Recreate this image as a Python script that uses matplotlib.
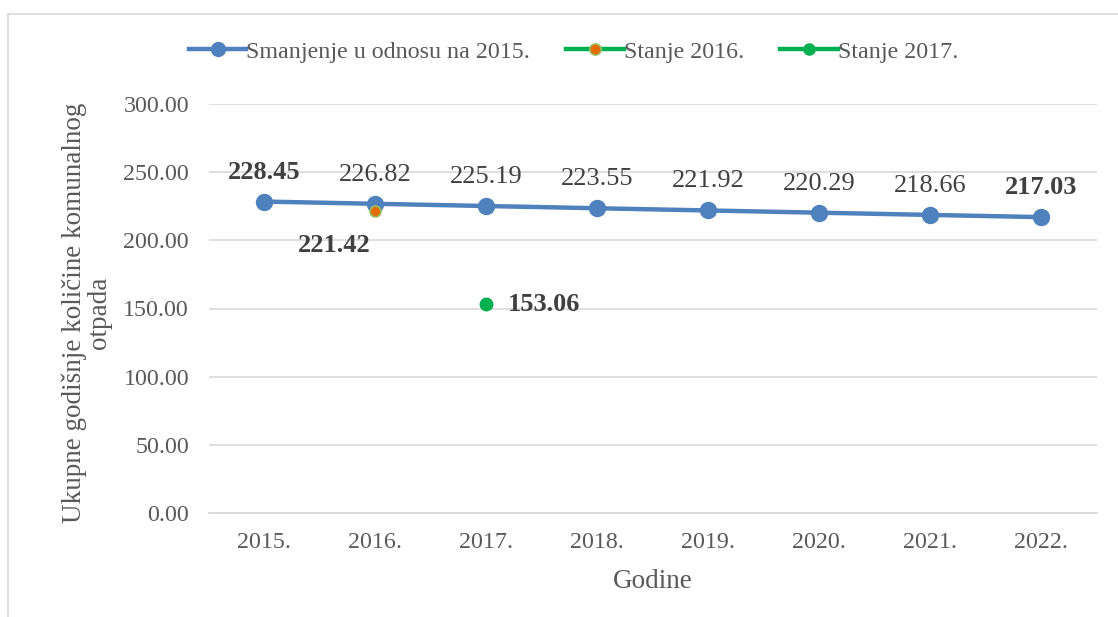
import matplotlib.pyplot as plt
from matplotlib.patches import Rectangle

# Podaci
years = ['2015.', '2016.', '2017.', '2018.', '2019.', '2020.', '2021.', '2022.']
reduction = [228.45, 226.82, 225.19, 223.55, 221.92, 220.29, 218.66, 217.03]
state_2016 = 221.42
state_2017 = 153.06
yticks = [0, 50, 100, 150, 200, 250, 300]

blue = '#4f81bd'
green = '#00b050'
orange = '#e36c09'
text_col = '#595959'
label_col = '#404040'

plt.rcParams['font.family'] = ['Liberation Serif', 'DejaVu Serif']

fig = plt.figure(figsize=(11.18, 6.17), dpi=100)
ax = fig.add_axes([0.1865, 0.1686, 0.7943, 0.6628])

x = list(range(len(years)))
ax.plot(x, reduction, color=blue, lw=3.2, marker='o', ms=11.5,
        label='Smanjenje u odnosu na 2015.', zorder=3)
ax.plot([1], [state_2016], color=green, lw=3.2, marker='o', ms=7.8,
        mfc=orange, mec='#9bbb59', mew=1.3, linestyle='none', zorder=4)
ax.plot([2], [state_2017], color=green, lw=3.2, marker='o', ms=9,
        linestyle='none', zorder=4)

# legenda
h1 = plt.Line2D([], [], color=blue, lw=3.2, marker='o', ms=10)
h2 = plt.Line2D([], [], color=green, lw=3.2, marker='o', ms=8,
                mfc=orange, mec='#9bbb59', mew=1.2)
h3 = plt.Line2D([], [], color=green, lw=3.2, marker='o', ms=8)
fig.legend([h1, h2, h3],
           ['Smanjenje u odnosu na 2015.', 'Stanje 2016.', 'Stanje 2017.'],
           loc='center', bbox_to_anchor=(0.513, 0.916), ncol=3, frameon=False,
           fontsize=17.3, handlelength=2.4, columnspacing=1.5, handletextpad=0.0,
           labelcolor=text_col)

# oznake podataka
for i, v in enumerate(reduction):
    bold = i in (0, len(reduction) - 1)
    ax.annotate(f'{v:.2f}', (i, v), xytext=(0, 13), textcoords='offset points',
                ha='center', va='bottom', fontsize=19, color=label_col,
                fontweight='bold' if bold else 'normal')
ax.annotate(f'{state_2016:.2f}', (1, state_2016), xytext=(-29, -25),
            textcoords='offset points', ha='center', va='center', fontsize=19,
            color=label_col, fontweight='bold')
ax.annotate(f'{state_2017:.2f}', (2, state_2017), xytext=(16, 0),
            textcoords='offset points', ha='left', va='center', fontsize=19,
            color=label_col, fontweight='bold')

ax.set_xlim(-0.5, len(years) - 0.5)
ax.set_ylim(0, 300)
ax.set_xticks(x)
ax.set_xticklabels(years)
ax.set_yticks(yticks)
ax.set_yticklabels([f'{t:.2f}' for t in yticks])
ax.tick_params(length=0, labelsize=17.3, labelcolor=text_col)
ax.tick_params(axis='y', pad=14)
ax.tick_params(axis='x', pad=14)
ax.grid(axis='y', color='#d9d9d9', lw=1.2)
ax.set_axisbelow(True)
for s in ['top', 'right', 'left']:
    ax.spines[s].set_visible(False)
ax.spines['bottom'].set_color('#d9d9d9')
ax.spines['bottom'].set_linewidth(1.2)

ax.set_xlabel('Godine', fontsize=19.5, color=text_col)
ax.xaxis.set_label_coords(0.5, -0.136)
ax.set_ylabel('Ukupne godišnje količine komunalnog\notpada', fontsize=19.5,
              color=text_col, linespacing=1.0)
ax.yaxis.set_label_coords(-0.109, 0.49)

# okvir grafikona
fig.patches.append(Rectangle((0.0075, -0.01), 1.1, 0.987, transform=fig.transFigure,
                             fill=False, edgecolor='#d9d9d9', lw=1.2))

fig.savefig('out.png', dpi=100, facecolor='white')
